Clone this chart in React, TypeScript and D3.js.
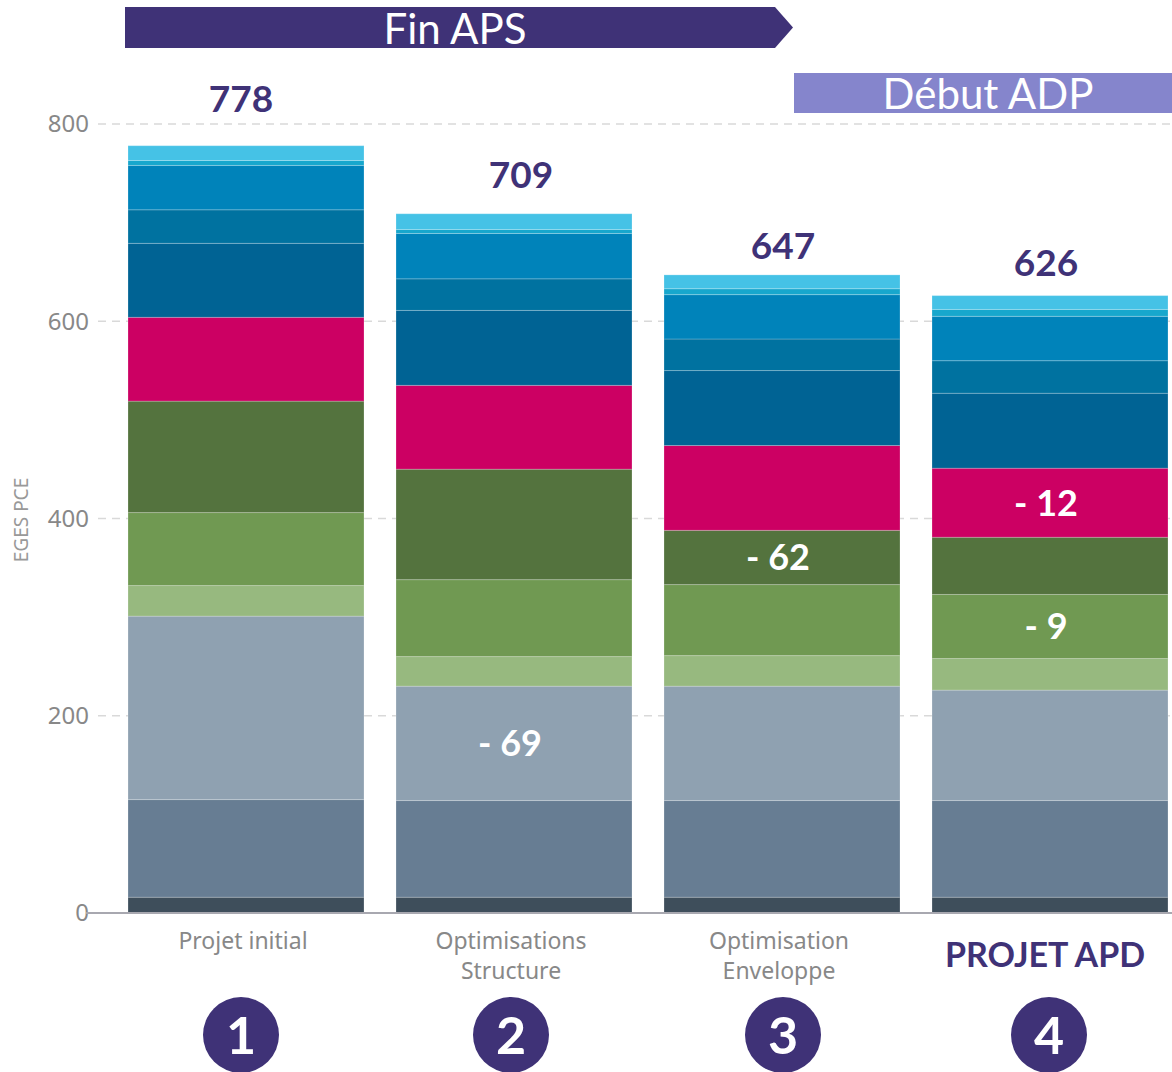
import React from "react";
import * as d3 from "d3";

const categories = ["Projet initial", "Optimisations\nStructure", "Optimisation\nEnveloppe", "PROJET APD"];
const totals = [778, 709, 647, 626];
const seriesNames = ["s1", "s2", "s3", "s4", "s5", "s6", "s7", "s8", "s9", "s10", "s11", "s12"];
// values per series (bottom to top), one value per category
const s1 = [16, 16, 16, 16];
const s2 = [99, 98, 98, 98];
const s3 = [186, 116, 116, 112];
const s4 = [31, 30, 31, 32];
const s5 = [74, 78, 72, 65];
const s6 = [113, 112, 55, 58];
const s7 = [85, 85, 86, 70];
const s8 = [75, 76, 76, 76];
const s9 = [34, 32, 32, 33];
const s10 = [45, 46, 45, 45];
const s11 = [5, 4, 6, 7];
const s12 = [15, 16, 14, 14];
const seriesValues = [s1, s2, s3, s4, s5, s6, s7, s8, s9, s10, s11, s12];
const colors = ["#3e4e5b", "#677d93", "#8fa1b1", "#97b97f", "#709952", "#54733e", "#cc0063", "#006394", "#0072a0", "#0083ba", "#17a7cd", "#45c2e6"];
const yTicks = [0, 200, 400, 600, 800];
const stepNumbers = ["1", "2", "3", "4"];
// in-bar delta annotations
const deltaCat = [1, 2, 3, 3];
const deltaSeries = [2, 5, 6, 4];
const deltaText = ["- 69", "- 62", "- 12", "- 9"];
// layout tweaks (not data)
const totalLabelGap = [34, 26, 16, 20];
const totalLabelDx = [-5, 7, 1, -4];
const catLabelDx = [-3, -3, -3, -5];
const circleDx = [-5, -3, 1, -1];

const PURPLE = "#3f3277";
const W = 1172;
const H = 1072;

export default function App() {
  const x = d3.scaleBand<string>().domain(categories).range([128, 1168]).paddingInner(32 / 268).paddingOuter(0);
  const y = d3.scaleLinear().domain([0, 800]).range([913, 124]);

  const rows = categories.map((c, i) => {
    const r: any = { cat: c };
    seriesNames.forEach((s, j) => (r[s] = seriesValues[j][i]));
    return r;
  });
  const stacked = d3.stack<any>().keys(seriesNames)(rows);

  const bw = x.bandwidth();
  const cx = (c: string) => (x(c) as number) + bw / 2;
  const labelFont = "Lato, 'Open Sans', sans-serif";
  const tickFont = "'Noto Sans', 'Open Sans', sans-serif";

  return (
    <svg width={W} height={H} style={{ position: "absolute", left: 0, top: 0, background: "#fff" }}>
      {yTicks.filter((t) => t > 0).map((t) => (
        <line key={t} x1={98} x2={W} y1={y(t)} y2={y(t)} stroke="#d9d9d9" strokeWidth={1.5} strokeDasharray="8 6" />
      ))}
      {yTicks.map((t) => (
        <text key={"t" + t} x={89} y={y(t)} dy="0.35em" textAnchor="end" fontFamily={tickFont} fontSize={24} fill="#888">
          {t}
        </text>
      ))}
      <text transform={`translate(28,520) rotate(-90)`} textAnchor="middle" fontFamily={tickFont} fontSize={19} fill="#999">
        EGES PCE
      </text>

      {stacked.map((layer, j) => (
        <g key={layer.key} fill={colors[j]}>
          {layer.map((d, i) => (
            <rect
              key={i}
              x={x(categories[i])}
              y={y(d[1])}
              width={bw}
              height={y(d[0]) - y(d[1])}
              stroke="rgba(255,255,255,0.22)"
              strokeWidth={1}
            />
          ))}
        </g>
      ))}
      <line x1={86} x2={W} y1={y(0)} y2={y(0)} stroke="#a8a8b0" strokeWidth={2} />

      {categories.map((c, i) => (
        <text key={"tot" + i} x={cx(c) + totalLabelDx[i]} y={y(totals[i]) - totalLabelGap[i]} textAnchor="middle" fontFamily={labelFont} fontWeight={700} fontSize={37} fill={PURPLE}>
          {totals[i]}
        </text>
      ))}

      {deltaText.map((t, k) => {
        const seg = stacked[deltaSeries[k]][deltaCat[k]];
        const c = categories[deltaCat[k]];
        return (
          <text key={"d" + k} x={cx(c) - 4} y={(y(seg[0]) + y(seg[1])) / 2} dy="0.36em" textAnchor="middle" fontFamily={labelFont} fontWeight={700} fontSize={36} fill="#fff">
            {t}
          </text>
        );
      })}

      {categories.map((c, i) => {
        const px = cx(c) + catLabelDx[i];
        if (i === 3) {
          return (
            <text key={"c" + i} x={px} y={967} textAnchor="middle" fontFamily={labelFont} fontWeight={700} fontSize={34} fill={PURPLE}>
              {c}
            </text>
          );
        }
        const lines = c.split("\n");
        return (
          <text key={"c" + i} x={px} y={949} textAnchor="middle" fontFamily={tickFont} fontSize={23} fill="#888">
            {lines.map((l, k) => (
              <tspan key={k} x={px} dy={k === 0 ? 0 : 30}>
                {l}
              </tspan>
            ))}
          </text>
        );
      })}

      {categories.map((c, i) => (
        <g key={"n" + i}>
          <circle cx={cx(c) + circleDx[i]} cy={1035} r={38} fill={PURPLE} />
          <text x={cx(c) + circleDx[i]} y={1035} dy="0.36em" textAnchor="middle" fontFamily={labelFont} fontWeight={700} fontSize={52} fill="#fff">
            {stepNumbers[i]}
          </text>
        </g>
      ))}

      <path d="M125,7 L775,7 L793,27.5 L775,48 L125,48 Z" fill={PURPLE} />
      <text x={455} y={44} textAnchor="middle" fontFamily={labelFont} fontSize={42} fill="#fff">
        Fin APS
      </text>
      <rect x={794} y={73} width={W - 794} height={40} fill="#8585cc" />
      <text x={988} y={109} textAnchor="middle" fontFamily={labelFont} fontSize={42} fill="#fff">
        Début ADP
      </text>
    </svg>
  );
}
